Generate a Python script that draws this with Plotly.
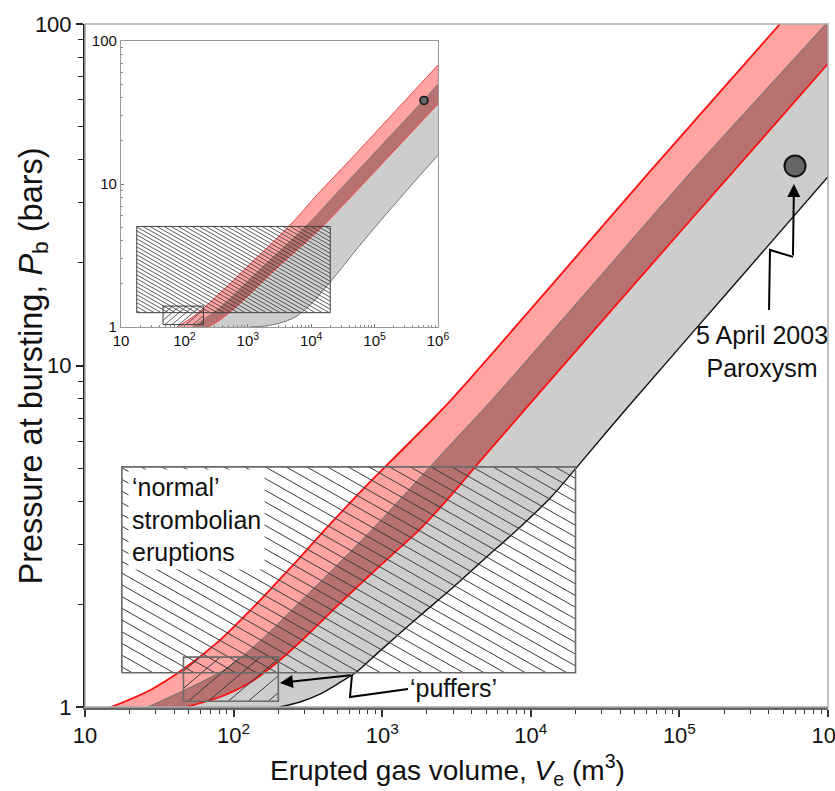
import numpy as np
import plotly.graph_objects as go

# ---------------- data ----------------
# Main panel: band boundaries, V (m^3) vs P (bars)
A_V = [15, 27.4, 47, 81, 139, 240, 446, 829, 1540, 2860, 13500, 63000, 475000, 1000000]
A_P = [1.0, 1.12, 1.30, 1.57, 1.98, 2.55, 3.43, 4.56, 5.97, 7.87, 17.0, 36.9, 100, 145]

B_V = [26.5, 90.3, 153, 263, 474, 923, 1688, 2990, 5390, 25400, 120000, 925000, 1000000]
B_P = [1.0, 1.30, 1.57, 1.98, 2.55, 3.43, 4.56, 5.97, 7.87, 17.0, 36.9, 98, 102]

C_V = [47.9, 81, 129, 196, 280, 364, 536, 790, 1164, 1714, 2730, 4277, 10350, 101000, 1000000]
C_P = [1.0, 1.07, 1.18, 1.35, 1.55, 1.73, 2.04, 2.39, 2.79, 3.25, 4.04, 5.08, 7.92, 24.6, 76.5]

D_V = [205, 280, 381, 520, 677, 966, 1714, 2860, 4770, 8070, 13500, 20500, 44400, 209000, 1000000]
D_P = [1.0, 1.034, 1.09, 1.18, 1.27, 1.46, 1.82, 2.20, 2.69, 3.30, 4.09, 5.05, 7.51, 16.3, 35.7]

# Inset panel boundaries
IA_V = [76.4, 122, 211, 364, 629, 1084, 2240, 5160, 12300, 40900, 252000, 1000000]
IA_P = [1.0, 1.14, 1.38, 1.73, 2.17, 2.76, 3.74, 5.42, 8.38, 14.7, 35.1, 67.9]
IB_V = [134, 371, 1084, 4010, 9570, 23700, 77800, 484000, 1000000]
IB_P = [1.0, 1.38, 2.17, 3.74, 5.42, 8.38, 14.7, 35.1, 50.0]
IC_V = [236, 364, 629, 1300, 3220, 7980, 16500, 38000, 175000, 1000000]
IC_P = [1.0, 1.12, 1.36, 1.84, 2.71, 3.87, 5.25, 7.73, 15.9, 36.3]
ID_V = [1084, 1866, 3220, 5546, 9570, 16500, 28500, 58900, 131000, 434000, 1000000]
ID_P = [1.0, 1.016, 1.066, 1.17, 1.42, 1.87, 2.50, 3.74, 5.69, 10.5, 15.9]

# Eruption-class boxes [Vmin, Vmax, Pmin, Pmax]
normal_box = [17.7, 20000, 1.26, 5.05]
puffer_box = [46, 200, 1.04, 1.40]

# 5 April 2003 paroxysm
parox_V = [600000]
parox_P = [38.4]

# annotation leader lines (V, P)
puff_line_V = [1493, 607, 626]
puff_line_P = [1.129, 1.070, 1.241]
puff_tip = (205, 1.176)
parox_line_V = [401000, 407000, 581000]
parox_line_P = [14.54, 21.8, 20.8]
parox_tip = (590000, 34.0)

x_ticks = [10, 100, 1000, 10000, 100000, 1000000]
x_ticktext = ["10", "10<sup>2</sup>", "10<sup>3</sup>", "10<sup>4</sup>", "10<sup>5</sup>", "10<sup>6</sup>"]
y_ticks = [1, 10, 100]
y_ticktext = ["1", "10", "100"]

# ---------------- layout geometry ----------------
W, H = 835, 791
ML, MR, MT, MB = 85, 7, 24, 84
PW, PH = W - ML - MR, H - MT - MB
# inset position in pixels
IX0, IX1, IY0, IY1 = 121, 438, 41, 327
ins_dx = [(IX0 - ML) / PW, (IX1 - ML) / PW]
ins_dy = [(H - MB - IY1) / PH, (H - MB - IY0) / PH]

FONT = "Liberation Sans, Arial, sans-serif"

LIGHT_RED = "#ffa3a3"
DARK_RED = "#b87171"
GRAY = "#cdcdcd"


def hatch(box, xppd, yppd, sp_h, slope, sign):
    """diagonal hatch lines clipped to a log-log box, spacing in pixels"""
    x0, x1, y0, y1 = box
    U0, U1 = np.log10(x0) * xppd, np.log10(x1) * xppd
    V0, V1 = np.log10(y0) * yppd, np.log10(y1) * yppd
    s = sign * slope
    cs = [V - s * U for U in (U0, U1) for V in (V0, V1)]
    step = sp_h * slope
    xs, ys = [], []
    c = min(cs) + step * 0.5
    while c < max(cs):
        ua, ub = (V0 - c) / s, (V1 - c) / s
        lo, hi = max(U0, min(ua, ub)), min(U1, max(ua, ub))
        if lo < hi:
            for u in (lo, hi):
                xs.append(10 ** (u / xppd))
                ys.append(10 ** ((s * u + c) / yppd))
            xs.append(None)
            ys.append(None)
        c += step
    return xs, ys


def box_outline(b):
    return [b[0], b[1], b[1], b[0], b[0]], [b[2], b[2], b[3], b[3], b[2]]


fig = go.Figure()


def add_panel(A, B, C, D, xa, ya, xppd, yppd, main):
    (AV, AP), (BV, BP), (CV, CP), (DV, DP) = A, B, C, D
    kw = dict(xaxis=xa, yaxis=ya, showlegend=False, hoverinfo="skip", mode="lines")
    sm = dict(shape="spline", smoothing=0.8)
    hidden = dict(width=0, **sm)

    def fill_between(lowV, lowP, upV, upP, color):
        fig.add_trace(go.Scatter(x=lowV, y=lowP, line=hidden, **kw))
        fig.add_trace(go.Scatter(x=upV, y=upP, line=hidden, fill="tonexty", fillcolor=color, **kw))

    fill_between(CV, CP, AV, AP, LIGHT_RED)
    fill_between(DV, DP, BV, BP, GRAY)
    fill_between(CV, CP, BV, BP, DARK_RED)

    lw = 1.8 if main else 1.0
    red = "#ff1010" if main else "#f04848"
    fig.add_trace(go.Scatter(x=BV, y=BP, line=dict(color="#707070", width=1.0 if main else 0.7, **sm), **kw))
    fig.add_trace(go.Scatter(x=DV, y=DP, line=dict(color="#111" if main else "#555", width=1.4 if main else 0.8, **sm), **kw))
    fig.add_trace(go.Scatter(x=AV, y=AP, line=dict(color=red, width=lw, **sm), **kw))
    fig.add_trace(go.Scatter(x=CV, y=CP, line=dict(color=red, width=lw, **sm), **kw))
    # hatching
    if main:
        hx, hy = hatch(normal_box, xppd, yppd, 20.7, 0.566, -1)
        px_, py_ = hatch(puffer_box, xppd, yppd, 20.0, 0.85, +1)
        hcol, hw = "#3a3a3a", 1.0
    else:
        hx, hy = hatch(normal_box, xppd, yppd, 7.0, 0.57, -1)
        px_, py_ = hatch(puffer_box, xppd, yppd, 7.0, 0.85, +1)
        hcol, hw = "#333", 0.8
    fig.add_trace(go.Scatter(x=hx, y=hy, line=dict(color=hcol, width=hw), connectgaps=False, **kw))
    fig.add_trace(go.Scatter(x=px_, y=py_, line=dict(color=hcol, width=hw), connectgaps=False, **kw))
    for b in (normal_box, puffer_box):
        x, y = box_outline(b)
        fig.add_trace(go.Scatter(x=x, y=y, line=dict(color="#6a6a6a" if main else "#444", width=1.6 if main else 1.0), **kw))
    kwm = dict(kw, mode="markers")
    fig.add_trace(go.Scatter(x=parox_V, y=parox_P,
                             marker=dict(size=21 if main else 8, color="#666", line=dict(color="#111", width=2 if main else 1.5)), **kwm))


add_panel((A_V, A_P), (B_V, B_P), (C_V, C_P), (D_V, D_P), "x", "y", PW / 5, PH / 2, True)
add_panel((IA_V, IA_P), (IB_V, IB_P), (IC_V, IC_P), (ID_V, ID_P), "x2", "y2",
          (IX1 - IX0) / 5, (IY1 - IY0) / 2, False)

# leader lines
fig.add_trace(go.Scatter(x=puff_line_V, y=puff_line_P, mode="lines", line=dict(color="black", width=2),
                         showlegend=False, hoverinfo="skip"))
fig.add_trace(go.Scatter(x=parox_line_V, y=parox_line_P, mode="lines", line=dict(color="black", width=2),
                         showlegend=False, hoverinfo="skip"))

lg = np.log10
TXT = dict(size=25, color="#111", family=FONT)
annotations = [
    dict(x=lg(puff_tip[0]), y=lg(puff_tip[1]), ax=lg(puff_line_V[-1]), ay=lg(puff_line_P[-1]),
         xref="x", yref="y", axref="x", ayref="y", showarrow=True, arrowhead=2, arrowsize=1.3,
         arrowwidth=2, arrowcolor="black", text=""),
    dict(x=lg(parox_tip[0]), y=lg(parox_tip[1]), ax=lg(parox_line_V[-1]), ay=lg(parox_line_P[-1]),
         xref="x", yref="y", axref="x", ayref="y", showarrow=True, arrowhead=2, arrowsize=1.3,
         arrowwidth=2, arrowcolor="black", text=""),
    dict(x=lg(1480), y=lg(1.137), xref="x", yref="y", xanchor="left", yanchor="middle",
         text="‘puffers’", showarrow=False, font=TXT),
    dict(x=lg(360000), y=lg(11.0), xref="x", yref="y", xanchor="center", yanchor="middle",
         text="5 April 2003<br>Paroxysm", showarrow=False, font=TXT),
    dict(x=lg(19.6), y=lg(4.96), xref="x", yref="y", xanchor="left", yanchor="top", align="left",
         text="‘normal’<br>strombolian<br>eruptions", showarrow=False, bgcolor="white", borderpad=3,
         font=TXT),
    dict(x=(33 - ML) / PW, y=(707 - 366.5) / PH, xref="paper", yref="paper", xanchor="center", yanchor="middle",
         textangle=-90, showarrow=False, font=dict(size=32.5, color="#111", family=FONT),
         text="Pressure at bursting, <i>P</i><sub>b</sub> (bars)"),
    dict(x=(447 - ML) / PW, y=(707 - 770) / PH, xref="paper", yref="paper", xanchor="center", yanchor="middle",
         showarrow=False, font=dict(size=28, color="#111", family=FONT),
         text="Erupted gas volume, <i>V</i><sub>e</sub> (m<sup>3</sup>)"),
]

minor_vals = [m * 10 ** e for e in range(0, 6) for m in range(2, 10)]

axis_common = dict(type="log", showgrid=False, zeroline=False, ticks="outside", tickmode="array",
                   automargin=False, ticklabeloverflow="allow")
fig.update_layout(
    width=W, height=H, margin=dict(l=ML, r=MR, t=MT, b=MB),
    paper_bgcolor="white", plot_bgcolor="white",
    font=dict(family=FONT, color="#111"),
    showlegend=False,
    annotations=annotations,
    xaxis=dict(axis_common, range=[1, 6], domain=[0, 1], anchor="y", tickvals=x_ticks, ticktext=x_ticktext,
               showline=True, linecolor="#666", linewidth=2.5, ticklen=7, tickwidth=1.5, tickcolor="#333",
               tickfont=dict(size=22), minor=dict(tickmode="array", tickvals=minor_vals, ticks="outside",
                                                  ticklen=4, tickwidth=1.2, tickcolor="#333")),
    yaxis=dict(axis_common, range=[0, 2], domain=[0, 1], anchor="x", tickvals=y_ticks, ticktext=y_ticktext,
               showline=True, linecolor="#222", linewidth=2, ticklen=7, tickwidth=1.5, tickcolor="#222",
               tickfont=dict(size=22), minor=dict(tickmode="array", tickvals=minor_vals, ticks="outside",
                                                  ticklen=5, tickwidth=1.2, tickcolor="#222")),
    xaxis2=dict(axis_common, range=[1, 6], domain=ins_dx, anchor="y2", tickvals=x_ticks, ticktext=x_ticktext,
                showline=True, mirror=True, linecolor="#999", linewidth=1.2, ticks="inside", ticklen=3,
                tickcolor="#777", tickfont=dict(size=15),
                minor=dict(tickmode="array", tickvals=minor_vals, ticks="inside", ticklen=2, tickcolor="#888")),
    yaxis2=dict(axis_common, range=[0, 2], domain=ins_dy, anchor="x2", tickvals=y_ticks, ticktext=y_ticktext,
                showline=True, mirror=True, linecolor="#999", linewidth=1.2, ticks="inside", ticklen=3,
                tickcolor="#777", tickfont=dict(size=15),
                minor=dict(tickmode="array", tickvals=minor_vals, ticks="inside", ticklen=2, tickcolor="#888")),
    shapes=[dict(type="rect", xref="paper", yref="paper", x0=0, x1=1, y0=0, y1=1,
                 line=dict(color="#aaaaaa", width=1.5), layer="above")],
)

fig.write_html("out.html")
